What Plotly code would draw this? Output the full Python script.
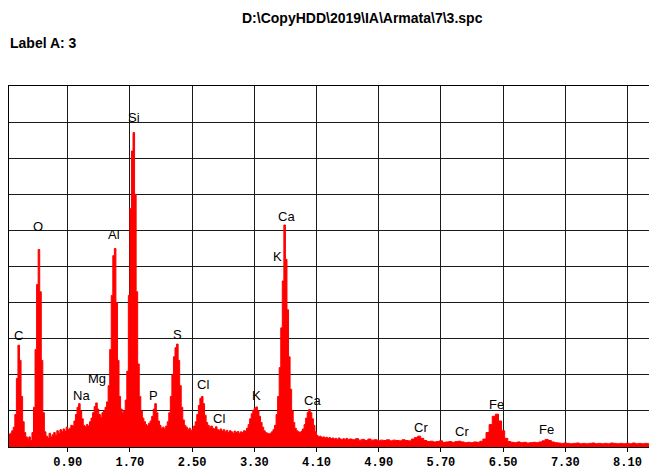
import numpy as np
import plotly.graph_objects as go

title_text = "D:\\CopyHDD\\2019\\IA\\Armata\\7\\3.spc"
label_a_text = "Label A: 3"

# Segment 1: channels from 0.14 keV, 0.02 keV apart (counts)
start_1, step_1 = 0.14, 0.02
counts_1 = [
    35, 38, 45, 55, 90, 190, 282, 240, 140, 70,      # 0.14
    40, 28, 22, 28, 18, 40, 110, 270, 450, 547,      # 0.34
    430, 240, 95, 42, 30, 25, 38, 28, 34, 40,        # 0.54
    32, 45, 38, 48, 42, 50, 44, 55, 48, 52,          # 0.74
    60, 58, 72, 90, 110, 120, 100, 78, 60, 56,       # 0.94
    62, 58, 70, 80, 95, 112, 122, 105, 90, 82,       # 1.14
    95, 100, 110, 125, 170, 270, 420, 530, 550, 400, # 1.34
    240, 140, 105, 95, 100, 130, 210, 420, 660, 820, # 1.54
    871, 700, 430, 230, 140, 100, 80, 70, 62, 58,    # 1.74
    66, 72, 85, 105, 120, 95, 72, 60, 52, 55,        # 1.94
    50, 58, 70, 95, 140, 200, 250, 275, 285, 240,    # 2.14
    170, 110, 75, 60, 55, 48, 52, 45, 50, 58,        # 2.34
    70, 90, 115, 135, 140, 120, 88, 68, 60, 55,      # 2.54
    58, 52, 50, 56, 48, 46, 50, 44, 48, 42,          # 2.74
    46, 40, 45, 42, 38, 44, 40, 43, 38, 42,          # 2.94
    40, 45, 44, 52, 62, 78, 92, 102, 108, 111,       # 3.14
    100, 85, 68, 55, 45, 40, 38, 36, 38, 42,         # 3.34
    48, 60, 90, 140, 220, 330, 460, 615, 520, 380,   # 3.54
    250, 160, 100, 68, 52, 45, 42, 40, 44, 50,       # 3.74
    62, 80, 96, 104, 95, 78, 60, 42, 32, 28,         # 3.94
    30, 26, 28, 25, 27, 24, 26, 23, 25, 22,          # 4.14
    24, 21, 25, 22, 20, 23, 21, 24, 20,              # 4.34
]

# Segment 2: channels from 4.52 keV, 0.04 keV apart
start_2, step_2 = 4.52, 0.04
counts_2 = [
    22, 20, 23, 19, 21, 18, 22, 19, 20, 17,          # 4.52
    19, 18, 20, 17, 19, 18, 17, 20, 18, 17,          # 4.92
    22, 26, 30, 24, 18, 15, 16, 14, 15, 17,          # 5.32
    13, 14, 15, 13, 15, 16, 14, 12, 13, 12,          # 5.72
    14, 13, 16, 22, 40, 62, 85, 91, 72, 45,          # 6.12
    24, 15, 13, 12, 14, 12, 13, 11, 12, 13,          # 6.52
    12, 14, 17, 21, 18, 14, 12, 11, 10, 11,          # 6.92
    10, 9, 10, 11, 9, 10, 9, 10, 11, 9,              # 7.32
    10, 9, 10, 9, 11, 10, 9, 10, 9, 10,              # 7.72
    9, 11, 9, 10, 9, 10, 9, 10, 9, 10,               # 8.12
    9,                                               # 8.52
]

tick_values = [0.90, 1.70, 2.50, 3.30, 4.10, 4.90, 5.70, 6.50, 7.30, 8.10]
tick_labels = ["0.90", "1.70", "2.50", "3.30", "4.10", "4.90", "5.70", "6.50", "7.30", "8.10"]

peak_labels = ["C", "O", "Na", "Mg", "Al", "Si", "P", "S", "Cl", "Cl",
               "K", "K", "Ca", "Ca", "Cr", "Cr", "Fe", "Fe"]
peak_label_kev = [0.261, 0.518, 1.071, 1.277, 1.495, 1.753, 2.00, 2.306, 2.64, 2.846,
                  3.322, 3.593, 3.72, 4.043, 5.446, 5.97, 6.42, 7.06]
peak_label_cnt = [310, 612, 143, 190, 590, 914, 143, 312, 174, 80,
                  143, 528, 639, 129, 55, 44, 118, 49]

energy_1 = start_1 + step_1 * np.arange(len(counts_1))
energy_2 = start_2 + step_2 * np.arange(len(counts_2))
energy = np.concatenate([energy_1, energy_2])
counts = np.array(counts_1 + counts_2)

fig = go.Figure()
fig.add_trace(go.Scatter(
    x=energy, y=counts, mode="lines", line=dict(color="#ff0000", width=1, shape="hv"),
    fill="tozeroy", fillcolor="#ff0000", hoverinfo="skip", showlegend=False,
))

annotations = []
for t, xk, yc in zip(peak_labels, peak_label_kev, peak_label_cnt):
    annotations.append(dict(x=xk, y=yc, xref="x", yref="y", text=t, showarrow=False,
                            font=dict(family="Arial, Liberation Sans", size=13, color="#000000"),
                            xanchor="center", yanchor="middle"))

annotations.append(dict(x=0.5448, y=1.188, xref="paper", yref="paper", text=title_text,
                        showarrow=False, xanchor="center", yanchor="middle",
                        font=dict(family="Liberation Sans Narrow, Arial Narrow, Arial", size=14,
                                  color="#000000", weight="bold")))
annotations.append(dict(x=-0.0015, y=1.119, xref="paper", yref="paper", text=label_a_text,
                        showarrow=False, xanchor="left", yanchor="middle",
                        font=dict(family="Liberation Sans Narrow, Arial Narrow, Arial", size=14,
                                  color="#000000", weight="bold")))

# The page body adds an 8px offset, so the figure is 8px smaller with a 1px left/78px top margin.
fig.update_layout(
    width=649, height=466,
    margin=dict(l=1, r=0, t=78, b=27),
    paper_bgcolor="white", plot_bgcolor="white",
    annotations=annotations,
    xaxis=dict(range=[0.145, 8.479], tickvals=tick_values, ticktext=tick_labels,
               showgrid=True, gridcolor="#1a1a1a", gridwidth=1,
               showline=True, linecolor="#000000", linewidth=1, mirror=True,
               ticks="outside", ticklen=4, tickcolor="#000000", zeroline=False,
               tickfont=dict(family="Liberation Mono, Courier New", size=12,
                             color="#000000", weight="bold")),
    yaxis=dict(range=[0, 1000], tick0=0, dtick=100, showticklabels=False,
               showgrid=True, gridcolor="#1a1a1a", gridwidth=1,
               showline=True, linecolor="#000000", linewidth=1, mirror=False,
               ticks="", zeroline=False),
)

fig.write_html("out.html")
